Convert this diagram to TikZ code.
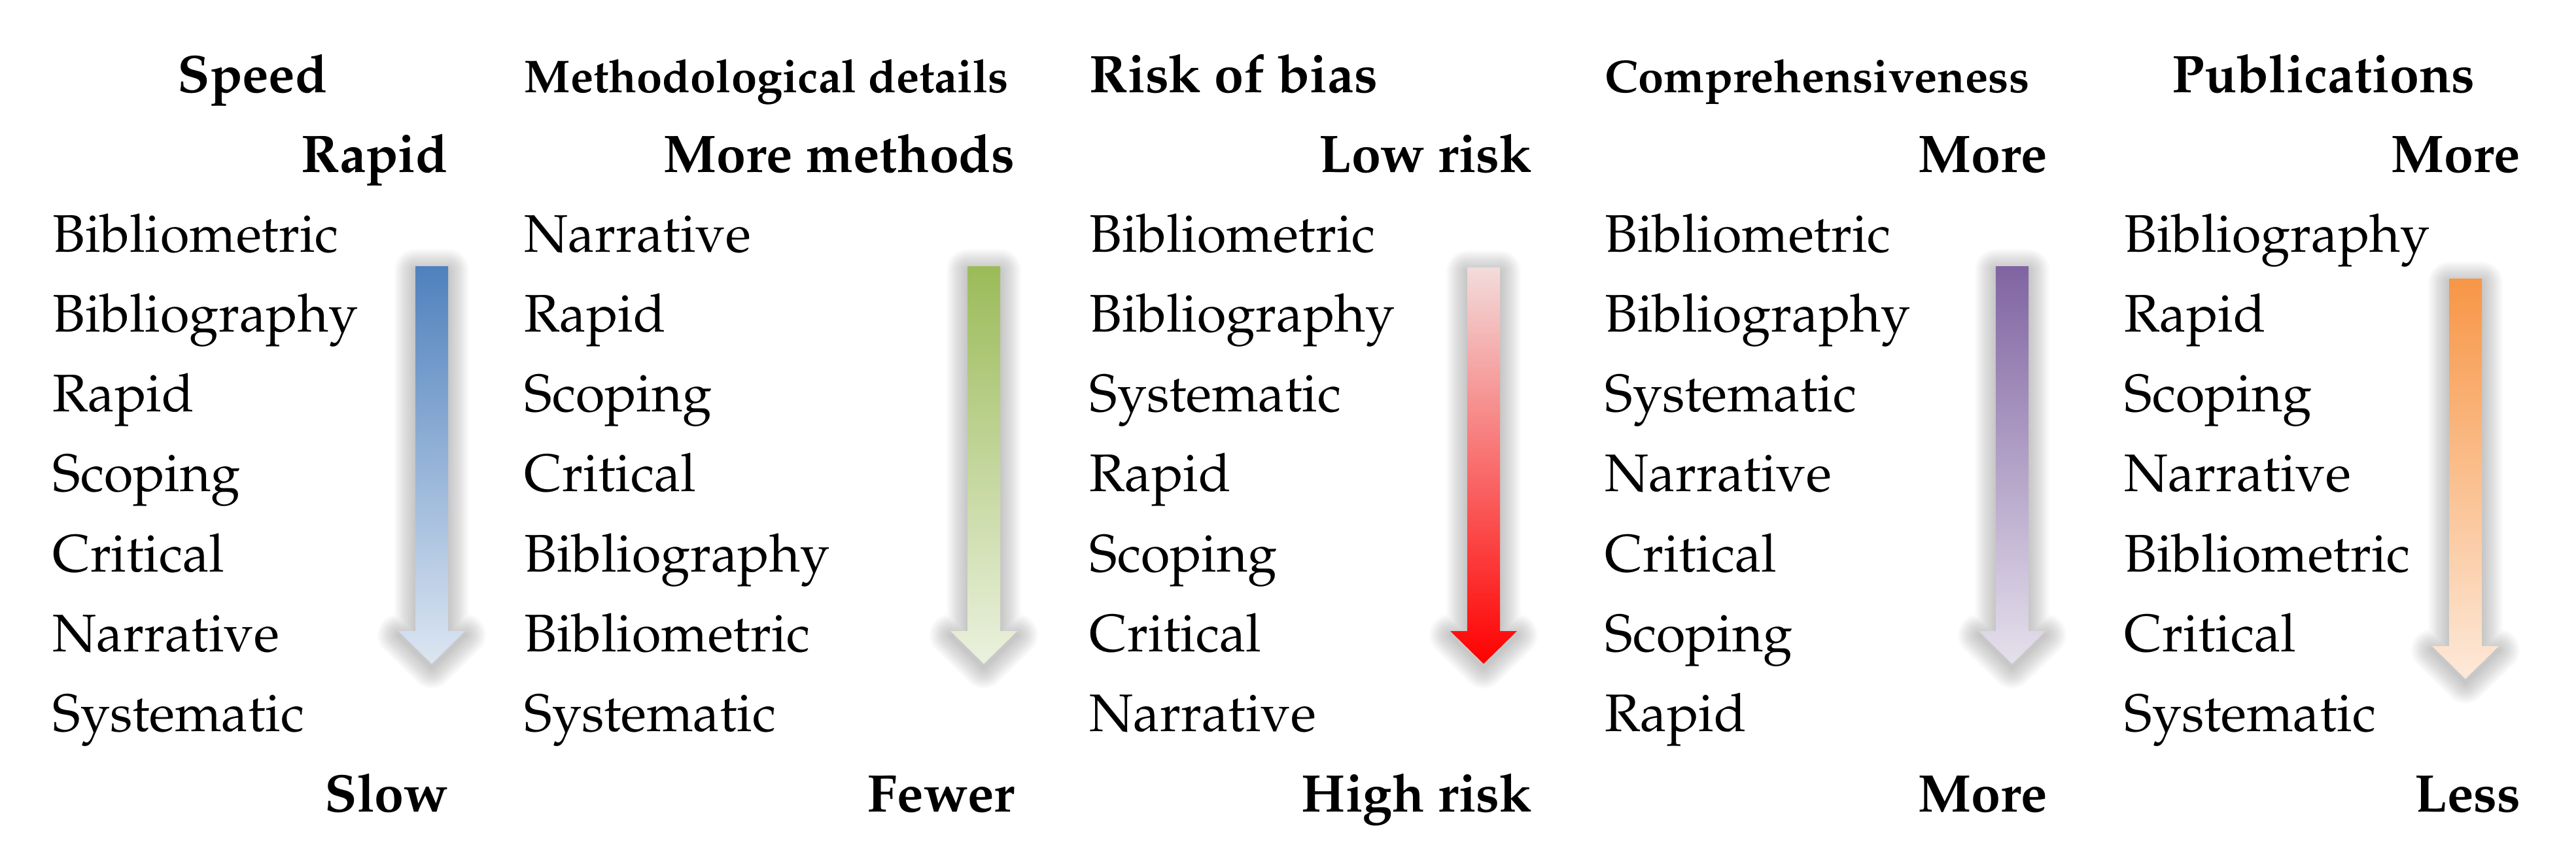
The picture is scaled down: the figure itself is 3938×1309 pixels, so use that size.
\documentclass[tikz,border=0pt]{standalone}
\usepackage[T1]{fontenc}
\usepackage{mathpazo}
\definecolor{blueTop}{RGB}{79,129,189}
\definecolor{blueBot}{RGB}{220,230,242}
\definecolor{greenTop}{RGB}{155,187,89}
\definecolor{greenBot}{RGB}{235,241,222}
\definecolor{redTop}{RGB}{242,220,219}
\definecolor{redBot}{RGB}{255,0,0}
\definecolor{purpleTop}{RGB}{128,100,162}
\definecolor{purpleBot}{RGB}{229,224,236}
\definecolor{orangeTop}{RGB}{247,150,70}
\definecolor{orangeBot}{RGB}{253,233,217}
\newcommand{\arrowpath}[3]{(#1-25,#2) -- (#1+25,#2) -- (#1+25,#3-50) -- (#1+51,#3-50) -- (#1,#3) -- (#1-51,#3-50) -- (#1-25,#3-50) -- cycle}
\newcommand{\gradarrow}[5]{%
  \foreach \w in {1,...,16}{%
    \draw[black, line width=\w*0.04cm, draw opacity=0.014, line join=round, yshift=-0.06cm] \arrowpath{#1}{#2}{#3};
  }
  \shade[top color=#4, bottom color=#5] \arrowpath{#1}{#2}{#3};
}
\begin{document}
\begin{tikzpicture}[x=0.01cm,y=-0.01cm,
  item/.style={anchor=base west, inner sep=0pt, font=\fontsize{23}{27}\selectfont},
  lab/.style={anchor=base east, inner sep=0pt, font=\fontsize{23}{27}\selectfont\bfseries},
  head/.style={anchor=base west, inner sep=0pt, font=\fontsize{23}{27}\selectfont\bfseries},
  headsm/.style={anchor=base west, inner sep=0pt, font=\fontsize{20}{24}\selectfont\bfseries}]
\path[use as bounding box] (0,0) rectangle (3938,1309);

% arrows
\gradarrow{660}{407}{1015}{blueTop}{blueBot}
\gradarrow{1504}{407}{1015}{greenTop}{greenBot}
\gradarrow{2268}{409}{1015}{redTop}{redBot}
\gradarrow{3076}{407}{1015}{purpleTop}{purpleBot}
\gradarrow{3769}{426}{1038}{orangeTop}{orangeBot}

% column 1
\node[head] (h1) at (271,141) {Speed};
\node[lab] (t1) at (686,263) {Rapid};
\foreach \t [count=\i] in {Bibliometric,Bibliography,Rapid,Scoping,Critical,Narrative,Systematic}
  \node[item] (a\i) at (80,263+122.2*\i) {\t};
\node[lab] (b1) at (686,1241) {Slow};

% column 2
\node[headsm] (h2) at (801,141) {Methodological details};
\node[lab] (t2) at (1552,263) {More methods};
\foreach \t [count=\i] in {Narrative,Rapid,Scoping,Critical,Bibliography,Bibliometric,Systematic}
  \node[item] (c\i) at (801,263+122.2*\i) {\t};
\node[lab] (b2) at (1552,1241) {Fewer};

% column 3
\node[head] (h3) at (1665,141) {Risk of bias};
\node[lab] (t3) at (2343,263) {Low risk};
\foreach \t [count=\i] in {Bibliometric,Bibliography,Systematic,Rapid,Scoping,Critical,Narrative}
  \node[item] (d\i) at (1665,263+122.2*\i) {\t};
\node[lab] (b3) at (2343,1241) {High risk};

% column 4
\node[headsm] (h4) at (2453,141) {Comprehensiveness};
\node[lab] (t4) at (3131,263) {More};
\foreach \t [count=\i] in {Bibliometric,Bibliography,Systematic,Narrative,Critical,Scoping,Rapid}
  \node[item] (e\i) at (2453,263+122.2*\i) {\t};
\node[lab] (b4) at (3131,1241) {More};

% column 5
\node[head] (h5) at (3320,141) {Publications};
\node[lab] (t5) at (3854,263) {More};
\foreach \t [count=\i] in {Bibliography,Rapid,Scoping,Narrative,Bibliometric,Critical,Systematic}
  \node[item] (f\i) at (3247,263+122.2*\i) {\t};
\node[lab] (b5) at (3854,1241) {Less};
\end{tikzpicture}
\end{document}
